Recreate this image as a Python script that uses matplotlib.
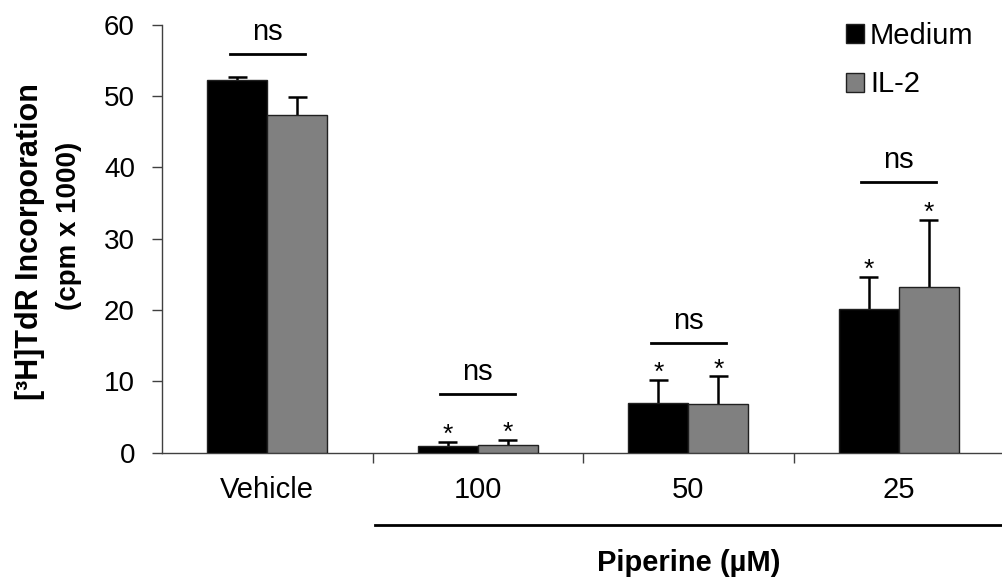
import numpy as np
import matplotlib
matplotlib.use("Agg")
import matplotlib.pyplot as plt
from matplotlib.patches import Patch
from matplotlib import font_manager

plt.rcParams['font.family'] = ['Liberation Sans', 'DejaVu Sans']

# values (cpm x 1000)
groups = ["Vehicle", "100", "50", "25"]
medium = [52.2, 0.9, 7.0, 20.2]
medium_err = [0.4, 0.6, 3.2, 4.4]
il2 = [47.3, 1.1, 6.8, 23.2]
il2_err = [2.6, 0.7, 3.9, 9.4]
ns_y = [55.9, 8.2, 15.4, 37.9]
starred = [False, True, True, True]
series = ["Medium", "IL-2"]

names = {f.name for f in font_manager.fontManager.ttflist}
narrow = "Liberation Sans Narrow" in names

fig = plt.figure(figsize=(10.02, 5.83), dpi=100)
ax = fig.add_axes([162 / 1002, 1 - 452.7 / 583, 1 - 162 / 1002, 428 / 583])

x = np.arange(len(groups))
w = 0.285
cap = 0.045
for xs, vals, errs, col in [(x - w / 2, medium, medium_err, "black"),
                            (x + w / 2, il2, il2_err, "#808080")]:
    ax.bar(xs, vals, w, color=col, edgecolor="#202020", linewidth=1, zorder=3)
    tops = np.array(vals) + np.array(errs)
    # upper-only error bars
    ax.vlines(xs, vals, tops, color="black", lw=1.8, zorder=2)
    ax.hlines(tops, xs - cap, xs + cap, color="black", lw=1.8, zorder=2)

# significance marks
for i in range(len(groups)):
    ax.plot([x[i] - 0.178, x[i] + 0.178], [ns_y[i], ns_y[i]], color="black", lw=2, clip_on=False)
    ax.annotate("ns", (x[i], ns_y[i]), xytext=(0, 10), textcoords="offset points",
                ha="center", va="baseline", fontsize=21, annotation_clip=False)
    if starred[i]:
        ax.annotate("*", (x[i] - w / 2, medium[i] + medium_err[i]), xytext=(0, 0),
                    textcoords="offset points", ha="center", va="baseline", fontsize=19)
        ax.annotate("*", (x[i] + w / 2, il2[i] + il2_err[i]), xytext=(0, 0),
                    textcoords="offset points", ha="center", va="baseline", fontsize=19)

ax.set_xlim(-0.5, 3.49)
ax.set_ylim(0, 60)
ax.set_yticks(range(0, 61, 10))
ax.set_xticks(x[:-1] + 0.5)
ax.set_xticks(x, minor=True)
ax.set_xticklabels([])
ax.set_xticklabels(groups, minor=True)
ax.tick_params(axis="x", which="major", direction="out", length=7.5, width=1, color="#404040")
ax.tick_params(axis="x", which="minor", length=0, pad=17, labelsize=21)
ax.tick_params(axis="y", direction="out", length=7.5, width=1, color="#404040", pad=12, labelsize=20)
for s in ["top", "right"]:
    ax.spines[s].set_visible(False)
for s in ["left", "bottom"]:
    ax.spines[s].set_color("#404040")
    ax.spines[s].set_linewidth(1)

# piperine bracket below the axis
tr = ax.get_xaxis_transform()
ax.plot([0.51, 3.49], [-0.169, -0.169], color="black", lw=2, transform=tr, clip_on=False)
ax.text(2.0, -0.257, "Piperine (\u00b5M)", transform=tr, ha="center", va="center",
        fontsize=21, fontweight="bold")

fig.text(30 / 1002, 1 - 242 / 583, "[\u00b3H]TdR Incorporation", rotation=90,
         ha="center", va="center", fontsize=22, fontweight="bold")
if narrow:
    fig.text(69 / 1002, 1 - 226 / 583, "(cpm x 1000)", rotation=90, family="Liberation Sans Narrow",
             ha="center", va="center", fontsize=23, fontweight="bold")
else:
    fig.text(69 / 1002, 1 - 226 / 583, "(cpm x 1000)", rotation=90,
             ha="center", va="center", fontsize=20, fontweight="bold")

handles = [Patch(facecolor="black", edgecolor="#202020"), Patch(facecolor="#808080", edgecolor="#202020")]
fig.legend(handles, series, loc="upper left", bbox_to_anchor=(846 / 1002, 1 - 22 / 583),
           frameon=False, fontsize=21, handlelength=0.62, handleheight=0.62,
           handletextpad=0.2, borderpad=0, borderaxespad=0, labelspacing=0.7)

fig.savefig("out.png", dpi=100)
